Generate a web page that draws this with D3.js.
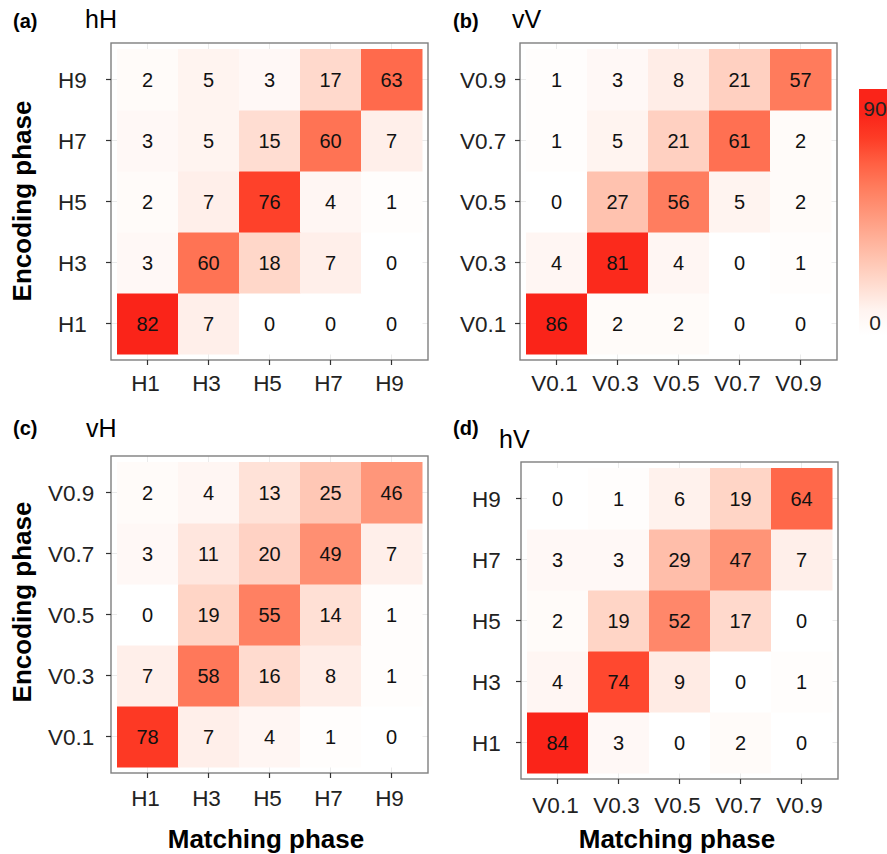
<!DOCTYPE html>
<html>
<head>
<meta charset="utf-8">
<script src="https://cdn.jsdelivr.net/npm/d3@7"></script>
<style>
  body { margin: 0; background: #fff; }
  svg { font-family: "Liberation Sans", Arial, sans-serif; }
</style>
</head>
<body>
<svg id="chart" width="887" height="854"></svg>
<script>
// category labels
const hCats = ["H1", "H3", "H5", "H7", "H9"];
const vCats = ["V0.1", "V0.3", "V0.5", "V0.7", "V0.9"];

// rows = encoding phase (bottom to top), columns = matching phase
const hHValues = [
    [82, 7, 0, 0, 0],
    [3, 60, 18, 7, 0],
    [2, 7, 76, 4, 1],
    [3, 5, 15, 60, 7],
    [2, 5, 3, 17, 63]
];
const vVValues = [
    [86, 2, 2, 0, 0],
    [4, 81, 4, 0, 1],
    [0, 27, 56, 5, 2],
    [1, 5, 21, 61, 2],
    [1, 3, 8, 21, 57]
];
const vHValues = [
    [78, 7, 4, 1, 0],
    [7, 58, 16, 8, 1],
    [0, 19, 55, 14, 1],
    [3, 11, 20, 49, 7],
    [2, 4, 13, 25, 46]
];
const hVValues = [
    [84, 3, 0, 2, 0],
    [4, 74, 9, 0, 1],
    [2, 19, 52, 17, 0],
    [3, 3, 29, 47, 7],
    [0, 1, 6, 19, 64]
];
const legendTicks = [0, 90];

const svg = d3.select("#chart");
const tileSize = 305;

// white to red fill, in Lab like ggplot does it
const fill = d3.scaleLinear()
    .domain([0, 82])
    .range(["#ffffff", "#fa2419"])
    .interpolate(d3.interpolateLab)
    .clamp(true);

function drawPanel(p) {
    const g = svg.append("g");
    const x = d3.scaleBand().domain(p.xCats).range([p.left, p.left + tileSize]);
    const y = d3.scaleBand().domain(p.yCats).range([p.top + tileSize, p.top]);
    const pad = 6;
    const bx0 = p.left - pad, bx1 = p.left + tileSize + pad;
    const by0 = p.top - pad, by1 = p.top + tileSize + pad;

    // light grid behind the tiles
    p.xCats.forEach(c => {
        g.append("line")
            .attr("x1", x(c) + x.bandwidth() / 2).attr("x2", x(c) + x.bandwidth() / 2)
            .attr("y1", by0).attr("y2", by1)
            .attr("stroke", "#ebebeb");
    });
    p.yCats.forEach(c => {
        g.append("line")
            .attr("y1", y(c) + y.bandwidth() / 2).attr("y2", y(c) + y.bandwidth() / 2)
            .attr("x1", bx0).attr("x2", bx1)
            .attr("stroke", "#ebebeb");
    });

    // tiles + numbers
    let cells = [];
    p.values.forEach((row, i) => {
        row.forEach((v, j) => {
            cells.push({xc: p.xCats[j], yc: p.yCats[i], v: v});
        });
    });
    g.selectAll("rect.tile")
        .data(cells)
        .enter().append("rect")
        .attr("class", "tile")
        .attr("x", d => x(d.xc))
        .attr("y", d => y(d.yc))
        .attr("width", x.bandwidth() + 0.5)
        .attr("height", y.bandwidth() + 0.5)
        .attr("fill", d => fill(d.v));
    g.selectAll("text.val")
        .data(cells)
        .enter().append("text")
        .attr("class", "val")
        .attr("x", d => x(d.xc) + x.bandwidth() / 2)
        .attr("y", d => y(d.yc) + y.bandwidth() / 2)
        .attr("dy", "0.36em")
        .attr("text-anchor", "middle")
        .style("font-size", "20px")
        .attr("fill", "#111")
        .text(d => d.v);

    // panel border
    g.append("rect")
        .attr("x", bx0).attr("y", by0)
        .attr("width", bx1 - bx0).attr("height", by1 - by0)
        .attr("fill", "none")
        .attr("stroke", "#7f7f7f")
        .attr("stroke-width", 1.4);

    // axes
    const xAxis = g.append("g")
        .attr("transform", "translate(0," + by1 + ")")
        .call(d3.axisBottom(x).tickSize(5).tickSizeOuter(0));
    xAxis.select(".domain").remove();
    xAxis.selectAll(".tick line").attr("stroke", "#333").attr("stroke-width", 1.2);
    xAxis.selectAll(".tick text")
        .attr("y", p.xLabelY).attr("dy", null).attr("dx", -2)
        .attr("fill", "#222")
        .style("font-size", "22.5px")
        .style("font-family", "Liberation Sans, Arial, sans-serif");

    const yAxis = g.append("g")
        .attr("transform", "translate(" + bx0 + ",0)")
        .call(d3.axisLeft(y).tickSize(5).tickSizeOuter(0));
    yAxis.select(".domain").remove();
    yAxis.selectAll(".tick line").attr("stroke", "#333").attr("stroke-width", 1.2);
    yAxis.selectAll(".tick text")
        .attr("x", p.yLabelX - bx0)
        .attr("dy", "0.36em")
        .attr("text-anchor", "start")
        .attr("fill", "#222")
        .style("font-size", "22.5px")
        .style("font-family", "Liberation Sans, Arial, sans-serif");

    // panel tag and title
    g.append("text")
        .attr("x", p.tagX).attr("y", p.tagY)
        .style("font-size", "20px").style("font-weight", "bold")
        .text(p.tag);
    g.append("text")
        .attr("x", p.titleX).attr("y", p.titleY)
        .style("font-size", "25px")
        .text(p.title);
}

drawPanel({tag: "(a)", title: "hH", xCats: hCats, yCats: hCats, values: hHValues,
    left: 117, top: 49, yLabelX: 58, xLabelY: 31, tagX: 13, tagY: 28, titleX: 85, titleY: 28});
drawPanel({tag: "(b)", title: "vV", xCats: vCats, yCats: vCats, values: vVValues,
    left: 526, top: 49, yLabelX: 460, xLabelY: 31, tagX: 453, tagY: 28, titleX: 512, titleY: 28});
drawPanel({tag: "(c)", title: "vH", xCats: hCats, yCats: vCats, values: vHValues,
    left: 117, top: 462, yLabelX: 48, xLabelY: 33, tagX: 13, tagY: 435, titleX: 86, titleY: 437});
drawPanel({tag: "(d)", title: "hV", xCats: vCats, yCats: hCats, values: hVValues,
    left: 527, top: 468, yLabelX: 472, xLabelY: 34, tagX: 453, tagY: 435, titleX: 499, titleY: 448});

// axis titles
[201, 602].forEach(cy => {
    svg.append("text")
        .attr("transform", "translate(31," + cy + ") rotate(-90)")
        .attr("text-anchor", "middle")
        .style("font-size", "26px").style("font-weight", "bold")
        .text("Encoding phase");
});
[266, 677].forEach(cx => {
    svg.append("text")
        .attr("x", cx).attr("y", 848)
        .attr("text-anchor", "middle")
        .style("font-size", "26px").style("font-weight", "bold")
        .text("Matching phase");
});

// colour bar legend at the right edge
const ly = d3.scaleLinear().domain([0, 90]).range([322, 108]);
const barTop = 89, barBottom = 335;
const grad = svg.append("defs").append("linearGradient")
    .attr("id", "bar").attr("x1", 0).attr("x2", 0).attr("y1", 1).attr("y2", 0);
d3.range(0, 11).forEach(k => {
    const v = ly.invert(barBottom + (barTop - barBottom) * k / 10);
    grad.append("stop")
        .attr("offset", k / 10)
        .attr("stop-color", fill(Math.max(0, v)));
});
svg.append("rect")
    .attr("x", 859).attr("y", barTop)
    .attr("width", 40).attr("height", barBottom - barTop)
    .attr("fill", "url(#bar)");
svg.selectAll("text.leg")
    .data(legendTicks)
    .enter().append("text")
    .attr("class", "leg")
    .attr("x", 875)
    .attr("y", d => ly(d))
    .attr("dy", "0.36em")
    .attr("text-anchor", "middle")
    .attr("fill", "#222")
    .style("font-size", "21px")
    .text(d => d);
</script>
</body>
</html>
